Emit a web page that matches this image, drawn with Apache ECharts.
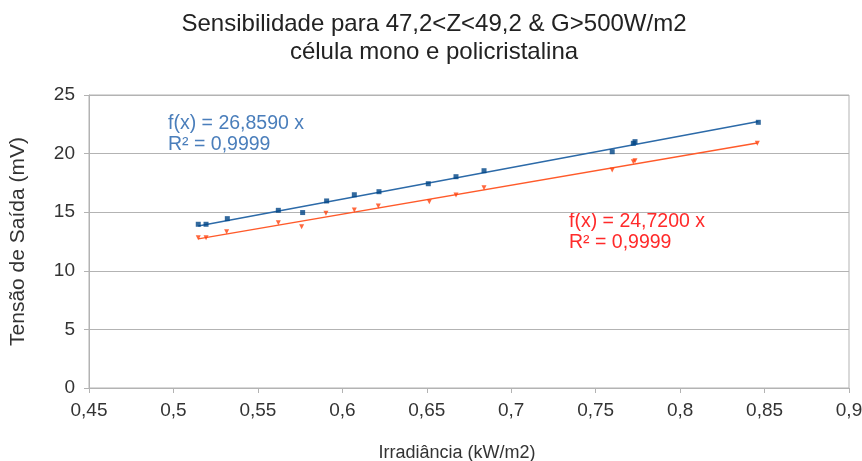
<!DOCTYPE html>
<html>
<head>
<meta charset="utf-8">
<script src="https://cdn.jsdelivr.net/npm/echarts@6/dist/echarts.min.js"></script>
<style>html,body{margin:0;padding:0;background:#fff}#c{width:862px;height:461px}</style>
</head>
<body>
<div id="c"></div>
<script>
const monoX = [0.5147, 0.5193, 0.5319, 0.5621, 0.5765, 0.5907, 0.6071, 0.6217, 0.6509, 0.6673, 0.6839, 0.7598, 0.7723, 0.7733, 0.8463];
const monoY = [13.97, 13.97, 14.45, 15.16, 14.97, 15.96, 16.49, 16.75, 17.43, 18.03, 18.54, 20.16, 20.88, 21.02, 22.67];
const polyX = [0.5147, 0.5193, 0.5315, 0.5621, 0.5759, 0.5903, 0.6071, 0.6213, 0.6515, 0.6673, 0.6839, 0.7598, 0.7723, 0.7733, 0.8457];
const polyY = [12.82, 12.82, 13.34, 14.10, 13.76, 14.91, 15.19, 15.53, 15.90, 16.47, 17.09, 18.60, 19.31, 19.40, 20.88];
const slopes = [26.8590, 24.7200];
const eqTexts = [["f(x) = 26,8590 x", "R² = 0,9999"], ["f(x) = 24,7200 x", "R² = 0,9999"]];
const xTicks = [0.45, 0.5, 0.55, 0.6, 0.65, 0.7, 0.75, 0.8, 0.85, 0.9];
const yTicks = [0, 5, 10, 15, 20, 25];

const FONT = '"Liberation Sans", Arial, sans-serif';
const pts = (xs, ys) => xs.map((x, i) => [x, ys[i]]);
const trend = (xs, k) => [[Math.min(...xs), k * Math.min(...xs)], [Math.max(...xs), k * Math.max(...xs)]];
const fmt = v => String(v).replace('.', ',');

const chart = echarts.init(document.getElementById('c'), null, {renderer: 'canvas'});
chart.setOption({
  animation: false,
  backgroundColor: '#fff',
  title: {
    text: 'Sensibilidade para 47,2<Z<49,2 & G>500W/m2\ncélula mono e policristalina',
    left: 429, top: 5, textAlign: 'center',
    textStyle: {fontFamily: FONT, fontSize: 24, fontWeight: 'normal', color: '#222', lineHeight: 28}
  },
  grid: {left: 89, right: 13, top: 95, bottom: 73, containLabel: false, outerBoundsMode: 'none',
    show: true, borderColor: '#b3b3b3', borderWidth: 1},
  xAxis: {
    type: 'value', min: 0.45, max: 0.9, interval: 0.05,
    name: 'Irradiância (kW/m2)', nameLocation: 'middle', nameGap: 56,
    nameTextStyle: {fontFamily: FONT, fontSize: 18, color: '#333', padding: [0, 24, 0, 0]},
    axisLine: {lineStyle: {color: '#b3b3b3'}},
    axisTick: {show: true, length: 5, lineStyle: {color: '#b3b3b3'}},
    axisLabel: {fontFamily: FONT, fontSize: 19, color: '#333', margin: 13,
      formatter: v => { const t = xTicks.find(a => Math.abs(a - v) < 1e-6); return t === undefined ? '' : fmt(t); }},
    splitLine: {show: false}
  },
  yAxis: {
    type: 'value', min: 0, max: 25, interval: 5,
    name: 'Tensão de Saída (mV)', nameLocation: 'middle', nameGap: 60, nameRotate: 90,
    nameTextStyle: {fontFamily: FONT, fontSize: 21, color: '#333'},
    axisLine: {show: true, lineStyle: {color: '#b3b3b3'}},
    axisTick: {show: true, length: 5, lineStyle: {color: '#b3b3b3'}},
    axisLabel: {fontFamily: FONT, fontSize: 19, color: '#333', margin: 14,
      formatter: v => yTicks.includes(v) ? String(v) : ''},
    splitLine: {show: true, lineStyle: {color: '#b3b3b3', width: 1}}
  },
  series: [
    {type: 'line', data: trend(monoX, slopes[0]), symbol: 'none', lineStyle: {color: '#2c6aa8', width: 1.5}, z: 2},
    {type: 'line', data: trend(polyX, slopes[1]), symbol: 'none', lineStyle: {color: '#ff5a2a', width: 1.5}, z: 2},
    {type: 'scatter', data: pts(monoX, monoY), symbol: 'rect', symbolSize: 5, itemStyle: {color: '#004586'}, z: 3},
    {type: 'scatter', data: pts(polyX, polyY), symbol: 'triangle', symbolRotate: 180, symbolSize: 5, itemStyle: {color: '#ff420e'}, z: 3}
  ],
  graphic: [
    {type: 'text', left: 168, top: 113, style: {text: eqTexts[0].join('\n'), fill: '#4a7ebb', font: '19.5px ' + FONT, lineHeight: 21}},
    {type: 'text', left: 569, top: 211, style: {text: eqTexts[1].join('\n'), fill: '#ff2a2a', font: '19.5px ' + FONT, lineHeight: 21}}
  ]
});
</script>
</body>
</html>
